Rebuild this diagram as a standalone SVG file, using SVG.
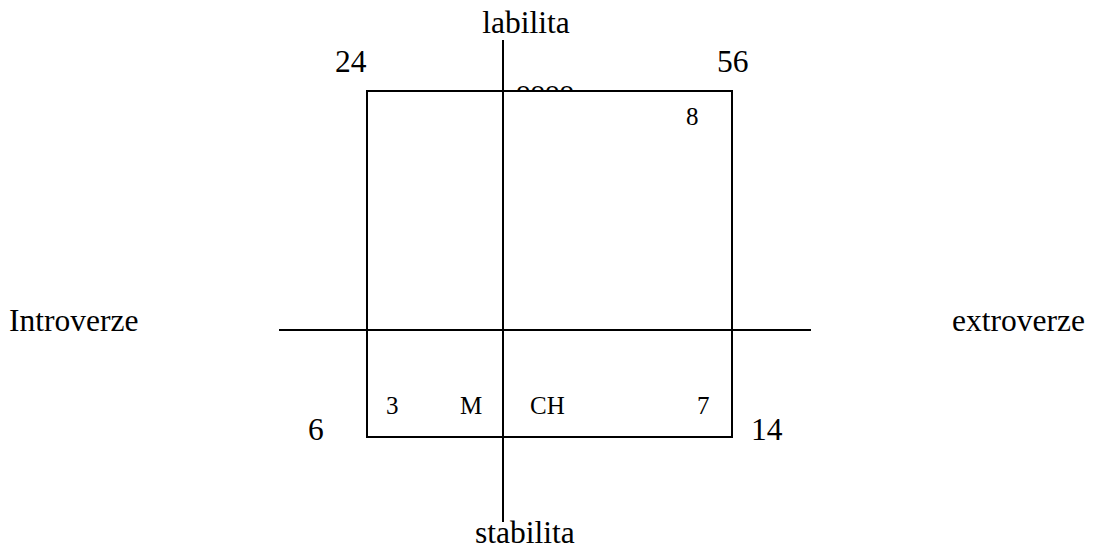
<svg xmlns="http://www.w3.org/2000/svg" width="1094" height="551" viewBox="0 0 1094 551">
<style>
text{font-family:"Liberation Serif","Times New Roman",serif;fill:#000}
.big{font-size:31.5px}
.small{font-size:25px}
.ln{stroke:#000;stroke-width:2;fill:none}
</style>
<defs>
<clipPath id="topclip"><rect x="400" y="0" width="300" height="90"/></clipPath>
</defs>
<rect width="1094" height="551" fill="#fff"/>
<g id="frame"><rect class="ln" x="367" y="91" width="365" height="346"/></g>
<g id="connectors">
<line class="ln" x1="503" y1="40" x2="503" y2="522"/>
<line class="ln" x1="279" y1="330" x2="811" y2="330"/>
</g>
<g id="hidden"><text x="516" y="100" style="font-size:29px" clip-path="url(#topclip)">oooo</text></g>
<g id="labels">
<text class="big" x="526" y="33" text-anchor="middle">labilita</text>
<text class="big" x="335" y="72">24</text>
<text class="big" x="717" y="72">56</text>
<text class="small" x="686" y="125">8</text>
<text class="big" x="9" y="331">Introverze</text>
<text class="big" x="952" y="331">extroverze</text>
<text class="small" x="386" y="414">3</text>
<text class="small" x="460" y="414">M</text>
<text class="small" x="530" y="414">CH</text>
<text class="small" x="697" y="414">7</text>
<text class="big" x="308" y="440">6</text>
<text class="big" x="751" y="440">14</text>
<text class="big" x="475" y="543">stabilita</text>
</g>
</svg>
